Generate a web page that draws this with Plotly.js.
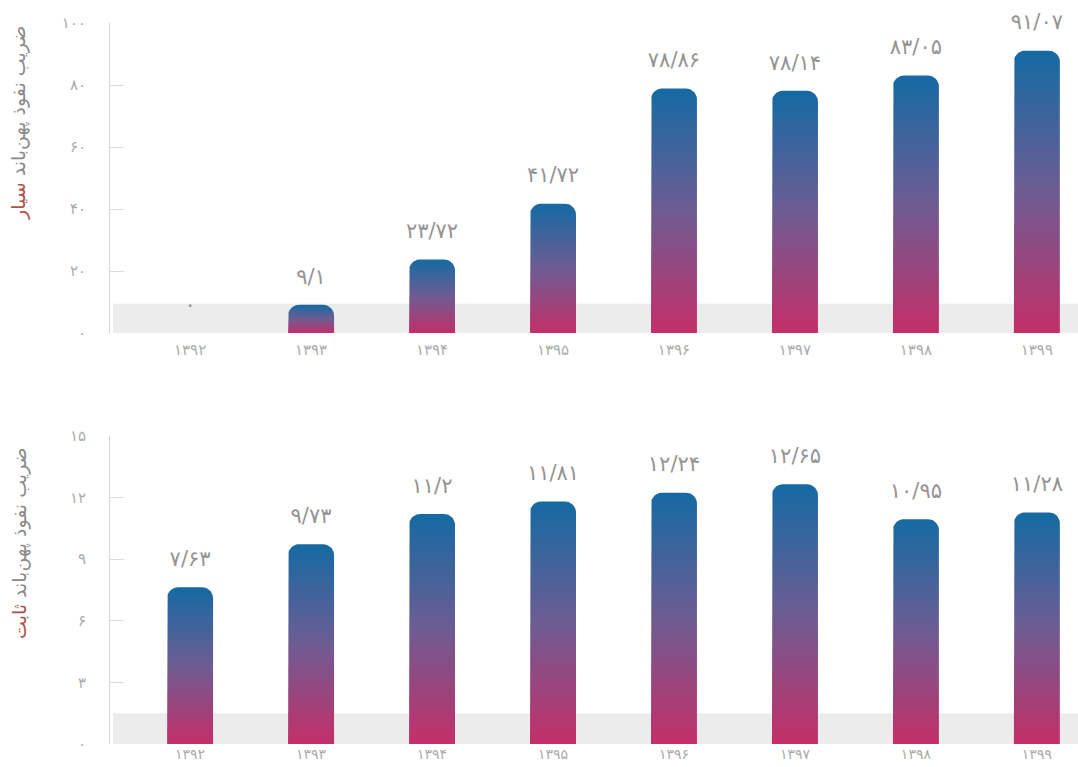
<!DOCTYPE html>
<html>
<head>
<meta charset="utf-8">
<script src="https://cdn.plot.ly/plotly-3.0.1.min.js"></script>
<style>html,body{margin:0;padding:0;background:#fff}#chart{width:1078px;height:767px}</style>
</head>
<body>
<div id="chart"></div>
<script>
// ---- data ----
var years = ['۱۳۹۲','۱۳۹۳','۱۳۹۴','۱۳۹۵','۱۳۹۶','۱۳۹۷','۱۳۹۸','۱۳۹۹'];
var mobileValues = [0, 9.1, 23.72, 41.72, 78.86, 78.14, 83.05, 91.07];
var fixedValues = [7.63, 9.73, 11.2, 11.81, 12.24, 12.65, 10.95, 11.28];
var mobileTicks = [0, 20, 40, 60, 80, 100];
var fixedTicks = [0, 3, 6, 9, 12, 15];
var mobileTitle = 'ضریب نفوذ پهن‌باند <span style="color:#b0504a">سیار</span>';
var fixedTitle = 'ضریب نفوذ پهن‌باند <span style="color:#b0504a">ثابت</span>';

// ---- helpers ----
var FA = '۰۱۲۳۴۵۶۷۸۹';
function fa(v){ return String(v).replace(/[0-9]/g, function(d){return FA[+d];}).replace('.', '/'); }

var W = 1078, H = 767;
var xDom = [110/W, 1];
var xRange = [-0.662, 7.34];
var topDom = [(H-333)/H, (H-23)/H];
var botDom = [(H-744)/H, (H-436)/H];
var topRange = [0, 100], botRange = [0, 15];
var barW = 0.38, radPx = 11;

var pxPerX = (xDom[1]-xDom[0])*W/(xRange[1]-xRange[0]);
function pxPerY(dom, rng){ return (dom[1]-dom[0])*H/(rng[1]-rng[0]); }

var gradient = {type:'vertical', colorscale:[[0,'#c42f68'],[0.5,'#6d5c93'],[1,'#156aa3']]};

function barTrace(i, v, xa, ya, ppy){
  var rx = radPx/pxPerX, ry = Math.min(radPx/ppy, v);
  var x0 = i-barW/2, x1 = i+barW/2;
  var xs = [x0], ys = [0];
  var n = 10, k;
  for(k=0;k<=n;k++){ var a = Math.PI - (Math.PI/2)*k/n; xs.push(x0+rx+rx*Math.cos(a)); ys.push(v-ry+ry*Math.sin(a)); }
  for(k=0;k<=n;k++){ var b = Math.PI/2 - (Math.PI/2)*k/n; xs.push(x1-rx+rx*Math.cos(b)); ys.push(v-ry+ry*Math.sin(b)); }
  xs.push(x1); ys.push(0); xs.push(x0); ys.push(0);
  return {type:'scatter', mode:'lines', x:xs, y:ys, xaxis:xa, yaxis:ya, fill:'toself',
          fillgradient:gradient, line:{width:0, color:'rgba(0,0,0,0)'}, hoverinfo:'skip', showlegend:false};
}

var traces = [];
var ppyTop = pxPerY(topDom, topRange), ppyBot = pxPerY(botDom, botRange);
mobileValues.forEach(function(v,i){ if(v>0) traces.push(barTrace(i, v, 'x', 'y', ppyTop)); });
fixedValues.forEach(function(v,i){ if(v>0) traces.push(barTrace(i, v, 'x2', 'y2', ppyBot)); });

var idx = years.map(function(_,i){return i;});
function labelTrace(vals, xa, ya){
  return {type:'scatter', mode:'markers+text', x:idx, y:vals, xaxis:xa, yaxis:ya,
    text: vals.map(fa), textposition:'top center', cliponaxis:false,
    textfont:{family:'DejaVu Sans', size:21, color:'#949494'},
    marker:{size:24, color:'rgba(0,0,0,0)'}, hoverinfo:'skip', showlegend:false};
}
traces.push(labelTrace(mobileValues, 'x', 'y'));
traces.push(labelTrace(fixedValues, 'x2', 'y2'));

var tickFont = {family:'DejaVu Sans', size:15, color:'#ababab'};
function xAxis(anchor, standoff, size){
  return {domain:xDom, range:xRange, anchor:anchor, tickmode:'array', tickvals:idx, ticktext:years,
    showgrid:false, zeroline:false, showline:false, ticks:'', ticklabelstandoff:standoff,
    tickfont:{family:'DejaVu Sans', size:size, color:'#ababab'}, fixedrange:true};
}
function yAxis(dom, rng, ticks, anchor){
  return {domain:dom, range:rng, anchor:anchor, tickmode:'array', tickvals:ticks, ticktext:ticks.map(fa),
    showgrid:false, zeroline:false, showline:true, linecolor:'#d6d6d6', linewidth:1,
    ticks:'inside', ticklen:14, tickcolor:'#dcdcdc', ticklabelstandoff:20,
    tickfont:tickFont, fixedrange:true};
}

var layout = {
  width:W, height:H, margin:{l:0, r:0, t:0, b:0},
  paper_bgcolor:'#fff', plot_bgcolor:'rgba(0,0,0,0)',
  font:{family:'DejaVu Sans', color:'#8c8c8c'},
  xaxis: xAxis('y', 6, 15), yaxis: yAxis(topDom, topRange, mobileTicks, 'x'),
  xaxis2: xAxis('y2', 0, 14), yaxis2: yAxis(botDom, botRange, fixedTicks, 'x2'),
  shapes:[
    {type:'rect', layer:'below', xref:'paper', yref:'y', x0:113/W, x1:1, y0:0, y1:9.4, fillcolor:'#ececec', line:{width:0}},
    {type:'rect', layer:'below', xref:'paper', yref:'y2', x0:113/W, x1:1, y0:0, y1:1.5, fillcolor:'#ececec', line:{width:0}}
  ],
  annotations:[
    {text:mobileTitle, xref:'paper', yref:'paper', x:19/W, y:(H-123)/H, textangle:-90, showarrow:false,
     xanchor:'center', yanchor:'middle', font:{family:'DejaVu Sans', size:19, color:'#8a8a8a'}},
    {text:fixedTitle, xref:'paper', yref:'paper', x:19/W, y:(H-543)/H, textangle:-90, showarrow:false,
     xanchor:'center', yanchor:'middle', font:{family:'DejaVu Sans', size:19, color:'#8a8a8a'}}
  ]
};

Plotly.newPlot('chart', traces, layout, {displayModeBar:false, staticPlot:true});
</script>
</body>
</html>
